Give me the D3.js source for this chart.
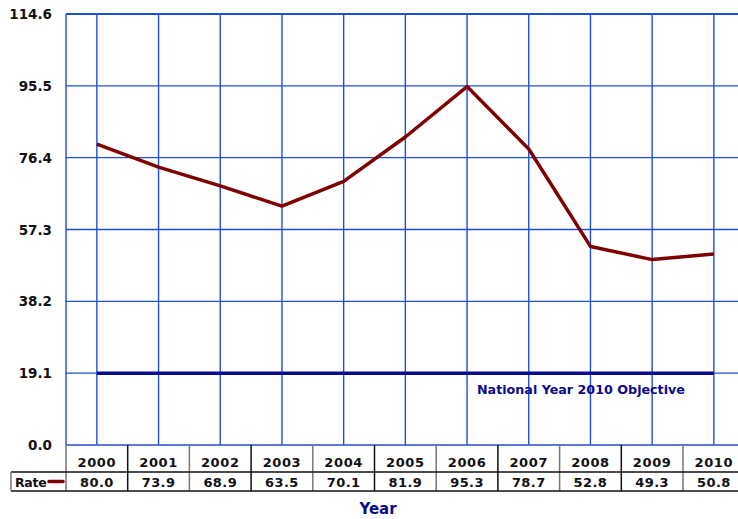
<!DOCTYPE html>
<html>
<head>
<meta charset="utf-8">
<script src="https://cdn.jsdelivr.net/npm/d3@7"></script>
<style>
  html, body { margin: 0; padding: 0; background: #fff; overflow: hidden; }
  svg { display: block; font-family: "DejaVu Sans", Verdana, sans-serif; }
</style>
</head>
<body>
<div id="chart"></div>
<script>
/* Datos del gráfico */
const years = ['2000', '2001', '2002', '2003', '2004', '2005', '2006', '2007', '2008', '2009', '2010'];
const rates = [80.0, 73.9, 68.9, 63.5, 70.1, 81.9, 95.3, 78.7, 52.8, 49.3, 50.8];
const yTicks = [0, 19.1, 38.2, 57.3, 76.4, 95.5, 114.6];
const objectiveValue = 19.1;
const objectiveLabel = 'National Year 2010 Objective';
const seriesName = 'Rate';
const axisTitle = 'Year';

const COLORS = {
  grid: '#1c50d2',
  line: '#800000',
  objective: '#0a0a8c',
  text: '#111',
  table: '#333'
};

const W = 738, H = 519;
const plot = { left: 66, top: 14, bottom: 445 };
const bandW = 61.7;

const svg = d3.select('#chart').append('svg')
  .attr('width', W).attr('height', H);

const x = d3.scaleBand()
  .domain(years)
  .range([plot.left, plot.left + bandW * years.length])
  .paddingInner(0).paddingOuter(0);
const cx = d => x(d) + x.bandwidth() / 2;

const y = d3.scaleLinear()
  .domain([0, 114.6])
  .range([plot.bottom, plot.top]);

const right = plot.left + bandW * years.length;

// Rejilla horizontal
svg.append('g').selectAll('line')
  .data(yTicks)
  .join('line')
    .attr('x1', plot.left).attr('x2', right)
    .attr('y1', d => y(d)).attr('y2', d => y(d))
    .attr('stroke', COLORS.grid)
    .attr('stroke-width', d => d === 114.6 ? 2 : 1.4);

// Rejilla vertical (en cada año) + borde izquierdo
svg.append('g').selectAll('line')
  .data(years)
  .join('line')
    .attr('x1', d => cx(d)).attr('x2', d => cx(d))
    .attr('y1', plot.top).attr('y2', plot.bottom)
    .attr('stroke', COLORS.grid)
    .attr('stroke-width', 1.4);

svg.append('line')
  .attr('x1', plot.left).attr('x2', plot.left)
  .attr('y1', plot.top).attr('y2', plot.bottom)
  .attr('stroke', COLORS.grid)
  .attr('stroke-width', 1.4);

// Etiquetas eje Y
svg.append('g').selectAll('text')
  .data(yTicks)
  .join('text')
    .attr('x', 52)
    .attr('y', d => y(d) + 5)
    .attr('text-anchor', 'end')
    .attr('font-size', 13.5)
    .attr('font-weight', 'bold')
    .attr('fill', COLORS.text)
    .text(d => d.toFixed(1));

// Línea objetivo
svg.append('line')
  .attr('x1', cx(years[0])).attr('x2', cx(years[years.length - 1]))
  .attr('y1', y(objectiveValue)).attr('y2', y(objectiveValue))
  .attr('stroke', COLORS.objective)
  .attr('stroke-width', 3.5);

svg.append('text')
  .attr('x', 477)
  .attr('y', y(objectiveValue) + 21)
  .attr('font-size', 12.7)
  .attr('font-weight', 'bold')
  .attr('fill', COLORS.objective)
  .text(objectiveLabel);

// Serie
const line = d3.line()
  .x((d, i) => cx(years[i]))
  .y(d => y(d));

svg.append('path')
  .datum(rates)
  .attr('d', line)
  .attr('fill', 'none')
  .attr('stroke', COLORS.line)
  .attr('stroke-width', 3.5)
  .attr('stroke-linejoin', 'round');

// Tabla de datos
const rowTop = plot.bottom, rowMid = 472, rowBot = 491, labelLeft = 11;
const tbl = svg.append('g');

tbl.selectAll('line.vb')
  .data(years.concat(['end']))
  .join('line')
    .attr('class', 'vb')
    .attr('x1', (d, i) => plot.left + i * bandW)
    .attr('x2', (d, i) => plot.left + i * bandW)
    .attr('y1', rowTop).attr('y2', rowBot)
    .attr('stroke', (d, i) => i % 2 === 0 ? '#777' : '#111')
    .attr('stroke-width', 1.5);

tbl.append('line')
  .attr('x1', labelLeft).attr('x2', right)
  .attr('y1', rowMid).attr('y2', rowMid)
  .attr('stroke', '#111').attr('stroke-width', 1.5);
tbl.append('line')
  .attr('x1', labelLeft).attr('x2', right)
  .attr('y1', rowBot).attr('y2', rowBot)
  .attr('stroke', '#111').attr('stroke-width', 1.5);
tbl.append('line')
  .attr('x1', labelLeft).attr('x2', labelLeft)
  .attr('y1', rowMid).attr('y2', rowBot)
  .attr('stroke', '#777').attr('stroke-width', 1.5);

tbl.selectAll('text.yr')
  .data(years)
  .join('text')
    .attr('class', 'yr')
    .attr('x', d => cx(d))
    .attr('y', 467)
    .attr('text-anchor', 'middle')
    .attr('font-size', 13)
    .attr('font-weight', 'bold')
    .attr('letter-spacing', 0.6)
    .attr('fill', COLORS.text)
    .text(d => d);

tbl.selectAll('text.val')
  .data(rates)
  .join('text')
    .attr('class', 'val')
    .attr('x', (d, i) => cx(years[i]))
    .attr('y', 487)
    .attr('text-anchor', 'middle')
    .attr('font-size', 13)
    .attr('font-weight', 'bold')
    .attr('letter-spacing', 0.4)
    .attr('fill', COLORS.text)
    .text(d => d.toFixed(1));

tbl.append('text')
  .attr('x', 15).attr('y', 487)
  .attr('font-size', 12.5)
  .attr('font-weight', 'bold')
  .attr('letter-spacing', -0.3)
  .attr('fill', COLORS.text)
  .text(seriesName);

tbl.append('line')
  .attr('x1', 49).attr('x2', 63)
  .attr('y1', 481.5).attr('y2', 481.5)
  .attr('stroke', COLORS.line)
  .attr('stroke-width', 3.5)
  .attr('stroke-linecap', 'round');

// Título eje X
svg.append('text')
  .attr('x', 378).attr('y', 514)
  .attr('text-anchor', 'middle')
  .attr('font-size', 15)
  .attr('font-weight', 'bold')
  .attr('fill', COLORS.objective)
  .text(axisTitle);
</script>
</body>
</html>
